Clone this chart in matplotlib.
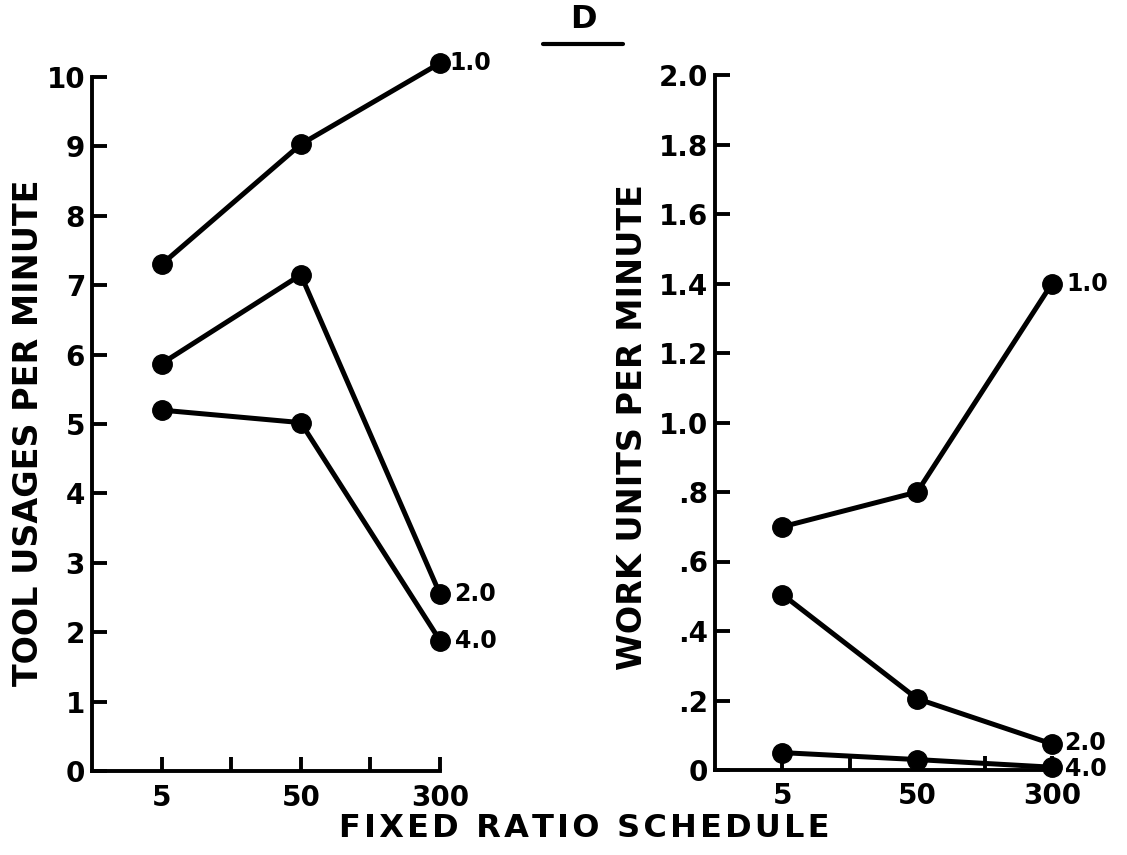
import matplotlib
matplotlib.use("Agg")
import matplotlib.pyplot as plt

plt.rcParams['font.family'] = ['DejaVu Sans']
plt.rcParams['font.weight'] = 'bold'

# Data
schedules = ["5", "50", "300"]
x_pos = [1, 3, 5]
minor_pos = [2, 4]

left_labels = ["1.0", "2.0", "4.0"]
tool_usages = {
    "1.0": [7.3, 9.03, 10.2],
    "2.0": [5.87, 7.15, 2.55],
    "4.0": [5.2, 5.02, 1.88],
}
work_units = {
    "1.0": [0.70, 0.80, 1.40],
    "2.0": [0.505, 0.205, 0.075],
    "4.0": [0.05, 0.03, 0.008],
}
left_yticks = [0, 1, 2, 3, 4, 5, 6, 7, 8, 9, 10]
left_yticklabels = ["0", "1", "2", "3", "4", "5", "6", "7", "8", "9", "10"]
right_yticks = [0, 0.2, 0.4, 0.6, 0.8, 1.0, 1.2, 1.4, 1.6, 1.8, 2.0]
right_yticklabels = ["0", ".2", ".4", ".6", ".8", "1.0", "1.2", "1.4", "1.6", "1.8", "2.0"]

W, H = 1127, 855
fig = plt.figure(figsize=(W / 100, H / 100), dpi=100)

ax1 = fig.add_axes([92 / W, 1 - 771 / H, 348 / W, 694 / H])
ax2 = fig.add_axes([715 / W, 1 - 770 / H, 337 / W, 695 / H])

FS = 20
lw_spine = 2.8
line_kw = dict(color="black", lw=3.6, marker="o", markersize=14, clip_on=False, zorder=3)


def style(ax, yticks, yticklabels, ymax):
    ax.set_xlim(0, 5)
    ax.set_ylim(0, ymax)
    for s in ["top", "right"]:
        ax.spines[s].set_visible(False)
    for s in ["left", "bottom"]:
        ax.spines[s].set_linewidth(lw_spine)
        ax.spines[s].set_capstyle("projecting")
    ax.set_yticks(yticks)
    ax.set_yticklabels(yticklabels)
    ax.set_xticks(x_pos + minor_pos)
    ax.set_xticklabels(schedules + ["", ""])
    ax.tick_params(axis="y", direction="in", length=11, width=lw_spine, pad=5, labelsize=FS)
    ax.tick_params(axis="x", direction="in", length=10, width=lw_spine, pad=9, labelsize=FS)
    ax.patch.set_visible(False)


style(ax1, left_yticks, left_yticklabels, 10)
style(ax2, right_yticks, right_yticklabels, 2.0)

for lab in left_labels:
    ax1.plot(x_pos, tool_usages[lab], **line_kw)
    ax2.plot(x_pos, work_units[lab], **line_kw)

# series labels at the right end
lab_fs = 17
def end_label(ax, text, y, dx=9, dy=0):
    ax.annotate(text, (x_pos[-1], y), xytext=(dx, dy), textcoords="offset points",
                va="center", ha="left", fontsize=lab_fs, annotation_clip=False)

end_label(ax1, "1.0", tool_usages["1.0"][-1], dx=7)
end_label(ax1, "2.0", tool_usages["2.0"][-1], dx=10)
end_label(ax1, "4.0", tool_usages["4.0"][-1], dx=11)
end_label(ax2, "1.0", work_units["1.0"][-1], dx=10)
end_label(ax2, "2.0", work_units["2.0"][-1], dx=9, dy=1)
end_label(ax2, "4.0", work_units["4.0"][-1], dx=9, dy=-1)

# axis labels
hs = "\u200a"
fig.text(29 / W, 1 - 433 / H, "TOOL USAGES PER MINUTE", rotation=90, ha="center", va="center", fontsize=24)
fig.text(632 / W, 1 - 427 / H, "WORK UNITS PER MINUTE", rotation=90, ha="center", va="center", fontsize=24)
fig.text(584 / W, 1 - 828 / H, hs.join("FIXED RATIO SCHEDULE"), ha="center", va="center", fontsize=23)

# panel title
fig.text(583 / W, 1 - 20 / H, "D", ha="center", va="center", fontsize=23)
fig.add_artist(plt.Line2D([543 / W, 623 / W], [1 - 44 / H, 1 - 44 / H], color="black", lw=3,
                          solid_capstyle="round", transform=fig.transFigure))

fig.savefig("out.png", dpi=100)
